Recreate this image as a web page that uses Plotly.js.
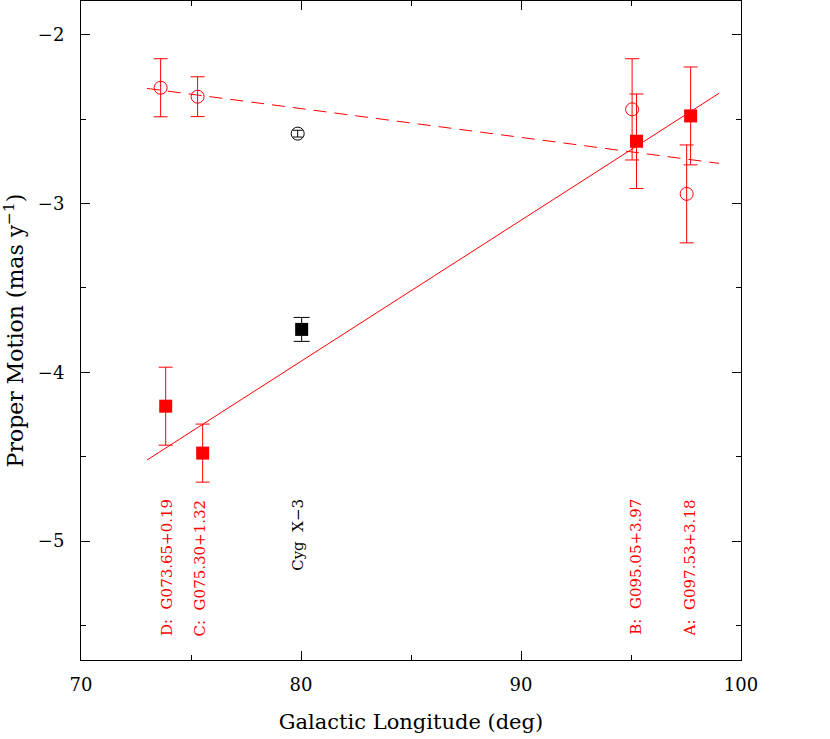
<!DOCTYPE html>
<html>
<head>
<meta charset="utf-8">
<script src="https://cdn.plot.ly/plotly-3.0.1.min.js"></script>
<style>
  html, body { margin: 0; padding: 0; background: #fff; }
  #chart { width: 830px; height: 739px; }
</style>
</head>
<body>
<div id="chart"></div>
<script>
// sources
const sourceLabels = ['D:  G073.65+0.19', 'C:  G075.30+1.32', 'B:  G095.05+3.97', 'A:  G097.53+3.18'];
const labelLon = [73.88, 75.4, 95.25, 97.67];

// open circles
const circleLon = [73.62, 75.30, 95.05, 97.53];
const circleMu = [-2.314, -2.367, -2.442, -2.943];
const circleErr = [0.172, 0.118, 0.30, 0.29];

// filled squares
const squareLon = [73.85, 75.53, 95.25, 97.71];
const squareMu = [-4.201, -4.479, -2.631, -2.481];
const squareErr = [0.231, 0.172, 0.28, 0.29];

// Cyg X-3
const cygLabel = 'Cyg  X\u22123';
const cygLabelLon = 79.85;
const cygCircleLon = [79.85];
const cygCircleMu = [-2.586];
const cygCircleErr = [0.02];
const cygSquareLon = [80.03];
const cygSquareMu = [-3.746];
const cygSquareErr = [0.071];

// fitted lines
const solidLon = [73, 99];
const solidMu = [-4.52, -2.347];
const dashLon = [73, 99];
const dashMu = [-2.318, -2.762];

const labelMuTop = -4.74;

const RED = '#ff0000';
const FONT = 'DejaVu Serif';

const data = [
  {
    type: 'scatter', mode: 'lines', x: solidLon, y: solidMu,
    line: { color: RED, width: 1 }, hoverinfo: 'skip',
  },
  {
    type: 'scatter', mode: 'lines', x: dashLon, y: dashMu,
    line: { color: RED, width: 1, dash: '13px,8px' }, hoverinfo: 'skip',
  },
  {
    type: 'scatter', mode: 'markers', x: circleLon, y: circleMu,
    error_y: { type: 'data', array: circleErr, color: RED, thickness: 1, width: 7 },
    marker: { symbol: 'circle-open', size: 13, color: RED, line: { width: 1, color: RED } },
  },
  {
    type: 'scatter', mode: 'markers', x: squareLon, y: squareMu,
    error_y: { type: 'data', array: squareErr, color: RED, thickness: 1, width: 7 },
    marker: { symbol: 'square', size: 13, color: RED },
  },
  {
    type: 'scatter', mode: 'markers', x: cygCircleLon, y: cygCircleMu,
    error_y: { type: 'data', array: cygCircleErr, color: '#000', thickness: 1, width: 5 },
    marker: { symbol: 'circle-open', size: 13, color: '#000', line: { width: 1, color: '#000' } },
  },
  {
    type: 'scatter', mode: 'markers', x: cygSquareLon, y: cygSquareMu,
    error_y: { type: 'data', array: cygSquareErr, color: '#000', thickness: 1, width: 8 },
    marker: { symbol: 'square', size: 13, color: '#000' },
  },
];

const annotations = sourceLabels.map((txt, i) => ({
  x: labelLon[i], y: labelMuTop, xref: 'x', yref: 'y',
  text: txt, showarrow: false, textangle: -90,
  xanchor: 'center', yanchor: 'top',
  font: { family: FONT, size: 15, color: RED },
}));
annotations.push({
  x: cygLabelLon, y: labelMuTop, xref: 'x', yref: 'y',
  text: cygLabel, showarrow: false, textangle: -90,
  xanchor: 'center', yanchor: 'top',
  font: { family: FONT, size: 15, color: '#000' },
});

const axisCommon = {
  showline: true, mirror: 'ticks', linecolor: '#000', linewidth: 1,
  ticks: 'inside', ticklen: 9, tickwidth: 1, tickcolor: '#000',
  showgrid: false, zeroline: false,
  tickfont: { family: FONT, size: 18, color: '#000' },
};

const layout = {
  width: 830, height: 739,
  paper_bgcolor: '#fff', plot_bgcolor: '#fff',
  showlegend: false,
  margin: { l: 81, r: 89, t: 1, b: 79 },
  xaxis: Object.assign({}, axisCommon, {
    range: [70, 100], tickvals: [70, 80, 90, 100],
    minor: { tickvals: [75, 85, 95], ticks: 'inside', ticklen: 5, tickcolor: '#000', showgrid: false },
    ticklabelstandoff: 8,
    title: { text: 'Galactic Longitude (deg)', font: { family: FONT, size: 21, color: '#000' }, standoff: 20 },
  }),
  yaxis: Object.assign({}, axisCommon, {
    range: [-5.705, -1.8], tickvals: [-2, -3, -4, -5],
    minor: { tickvals: [-2.5, -3.5, -4.5, -5.5], ticks: 'inside', ticklen: 5, tickcolor: '#000', showgrid: false },
    ticklabelstandoff: 12,
    title: { text: 'Proper Motion (mas y<sup>\u22121</sup>)', font: { family: FONT, size: 22, color: '#000' }, standoff: 12 },
  }),
  annotations: annotations,
};

Plotly.newPlot('chart', data, layout, { displayModeBar: false, staticPlot: true });
</script>
</body>
</html>
